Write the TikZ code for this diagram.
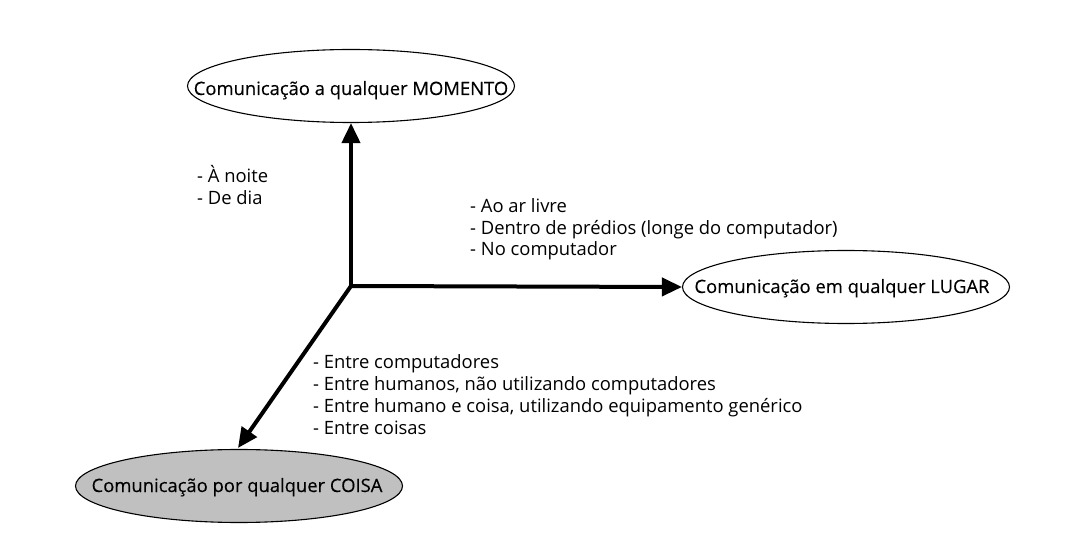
\documentclass[tikz,border=0pt]{standalone}
\usepackage{fontspec}
\setmainfont{Open Sans}
\newfontfamily\lblfont[FakeBold=0.3]{Open Sans}
\usetikzlibrary{shapes.geometric,arrows.meta}
\definecolor{coisagray}{RGB}{192,192,192}
\begin{document}
\begin{tikzpicture}[x=1pt,y=-1pt,
  ell/.style={draw=black,line width=1.1pt,ellipse,inner sep=0pt,minimum width=327pt,minimum height=73pt},
  arr/.style={line width=4pt,-{Triangle[length=20pt,width=18pt]}},
  lst/.style={anchor=base west,inner sep=0pt,font=\fontsize{18.4}{22}\selectfont},
  lbl/.style={anchor=base,inner sep=0pt,font=\lblfont\fontsize{18.4}{22}\selectfont}]
\useasboundingbox (0,0) rectangle (1080,548);
\node[ell] (mom) at (351,86) {};
\node[ell] (lug) at (846,287) {};
\node[ell,fill=coisagray] (coi) at (239,486) {};
\node[lbl] (momt) at (351,95) {Comunicação a qualquer MOMENTO};
\node[lbl] (lugt) at (842,293) {Comunicação em qualquer LUGAR};
\node[lbl] (coit) at (237,492) {Comunicação por qualquer COISA};
\coordinate (o) at (351,286);
\coordinate (coitip) at (238,448);
\draw[arr] (o) -- (mom.south);
\draw[arr] (o) -- (lug.west);
\draw[arr] (o) -- (coitip);
\fill (o) ++(-2,-2) rectangle ++(4,4);
\node[lst] (a1) at (197,183) {- À noite};
\node[lst] (a2) at (197,204.5) {- De dia};
\node[lst] (b1) at (470,213) {- Ao ar livre};
\node[lst] (b2) at (470,234.5) {- Dentro de prédios (longe do computador)};
\node[lst] (b3) at (470,256) {- No computador};
\node[lst] (c1) at (313,368) {- Entre computadores};
\node[lst] (c2) at (313,390) {- Entre humanos, não utilizando computadores};
\node[lst] (c3) at (313,412) {- Entre humano e coisa, utilizando equipamento genérico};
\node[lst] (c4) at (313,434) {- Entre coisas};
\end{tikzpicture}
\end{document}
